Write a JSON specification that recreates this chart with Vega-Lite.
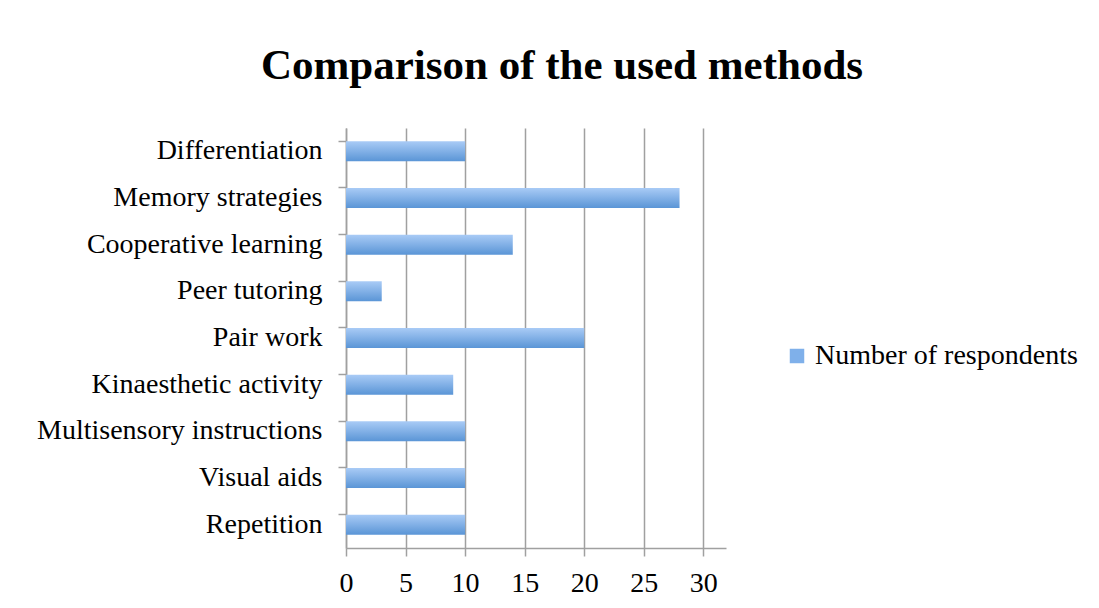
{
  "$schema": "https://vega.github.io/schema/vega-lite/v6.json",
  "autosize": "none",
  "width": 380,
  "height": 420,
  "padding": {"left": 346, "top": 128, "right": 373, "bottom": 60},
  "background": "white",
  "title": {
    "text": "Comparison of the used methods",
    "font": "Liberation Serif",
    "fontSize": 43,
    "fontWeight": "bold",
    "color": "black",
    "anchor": "middle",
    "dx": 26,
    "offset": 40
  },
  "config": {
    "view": {"stroke": null},
    "axis": {"labelFont": "Liberation Serif", "labelColor": "black", "domainColor": "#a0a0a0", "tickColor": "#a0a0a0", "domainWidth": 1.5, "tickWidth": 1.5, "labelLimit": 400}
  },
  "data": {
    "values": [
      {"method": "Differentiation", "value": 10},
      {"method": "Memory strategies", "value": 28},
      {"method": "Cooperative learning", "value": 14},
      {"method": "Peer tutoring", "value": 3},
      {"method": "Pair work", "value": 20},
      {"method": "Kinaesthetic activity", "value": 9},
      {"method": "Multisensory instructions", "value": 10},
      {"method": "Visual aids", "value": 10},
      {"method": "Repetition", "value": 10}
    ]
  },
  "encoding": {
    "y": {
      "field": "method",
      "type": "nominal",
      "sort": null,
      "scale": {"paddingInner": 0.57, "paddingOuter": 0.285},
      "axis": {
        "title": null,
        "bandPosition": 0,
        "labelFontSize": 28,
        "labelPadding": 16,
        "tickSize": 8,
        "grid": false
      }
    },
    "x": {
      "field": "value",
      "type": "quantitative",
      "scale": {"domain": [0, 31.9], "nice": false},
      "axis": {
        "title": null,
        "values": [0, 5, 10, 15, 20, 25, 30],
        "grid": true,
        "gridColor": "#a0a0a0",
        "gridWidth": 1.5,
        "tickSize": 8,
        "labelFontSize": 28,
        "labelPadding": 13,
        "labelFlush": false
      }
    }
  },
  "layer": [
    {
      "mark": {
        "type": "bar",
        "color": {
          "gradient": "linear",
          "x1": 0, "y1": 0, "x2": 0, "y2": 1,
          "stops": [
            {"offset": 0, "color": "#a9cbf6"},
            {"offset": 1, "color": "#5a95d6"}
          ]
        }
      }
    },
    {
      "mark": {"type": "bar", "opacity": 0},
      "encoding": {
        "color": {
          "datum": "Number of respondents",
          "type": "nominal",
          "scale": {"range": ["#7fb0ea"]},
          "legend": {
            "title": null,
            "orient": "none",
            "legendX": 437,
            "legendY": 214,
            "symbolType": "square",
            "symbolSize": 210,
            "symbolOpacity": 1,
            "symbolStrokeWidth": 0,
            "labelFont": "Liberation Serif",
            "labelFontSize": 28,
            "labelLimit": 400,
            "labelColor": "black",
            "labelOffset": 4
          }
        }
      }
    }
  ]
}
